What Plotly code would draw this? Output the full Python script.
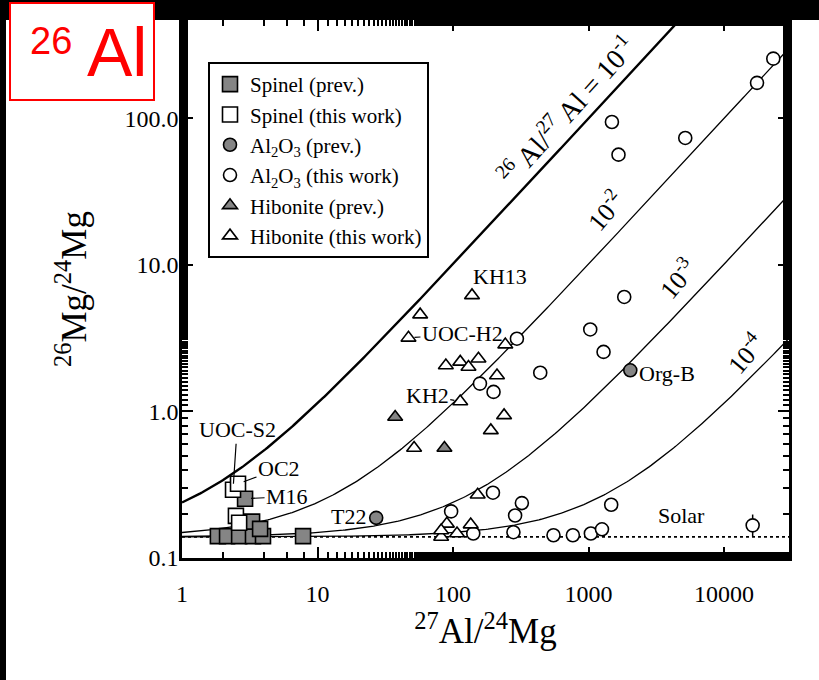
import numpy as np
import plotly.graph_objects as go

# ---------------- data ----------------
spinel_prev_x = [1.84, 2.15, 2.64, 3.34, 3.96, 7.82, 2.92, 3.29, 3.77]
spinel_prev_y = [0.141, 0.141, 0.141, 0.141, 0.141, 0.141, 0.254, 0.177, 0.158]

spinel_new_x = [2.38, 2.59, 2.50, 2.64]
spinel_new_y = [0.292, 0.321, 0.194, 0.174]

al_prev_x = [27.1, 2032]
al_prev_y = [0.188, 1.91]

al_new_x = [23070, 17500, 1487, 1663, 5170, 1833, 1029, 1290, 296, 440, 158, 199,
            96.8, 197, 322, 287, 279, 141, 551, 766, 1040, 1256, 1469, 16250]
al_new_y = [256, 175, 94.6, 56.6, 73.6, 6.05, 3.63, 2.55, 3.14, 1.84, 1.55, 1.36,
            0.208, 0.279, 0.237, 0.195, 0.150, 0.147, 0.143, 0.143, 0.147, 0.157, 0.231, 0.167]
al_new_err_plus = [0] * 23 + [0.031]
al_new_err_minus = [0] * 23 + [0.027]

hib_prev_x = [37.4, 86.4]
hib_prev_y = [0.917, 0.563]

hib_new_x = [138, 57.2, 46.9, 88.5, 113, 130, 154, 243, 211, 113, 238, 190, 51.6,
             152, 90, 81.7, 107, 135, 81.7]
hib_new_y = [6.2, 4.58, 3.18, 2.06, 2.18, 2.01, 2.29, 2.86, 1.76, 1.17, 0.94, 0.743, 0.563,
             0.270, 0.171, 0.139, 0.147, 0.169, 0.154]

solar_ratio = 0.1393
isochron_ratios = [1e-1, 1e-2, 1e-3, 1e-4]
isochron_labels = ["<sup>26</sup> Al/<sup>27</sup> Al = 10<sup>-1</sup>",
                   "10<sup>-2</sup>", "10<sup>-3</sup>", "10<sup>-4</sup>"]
isochron_label_pos = [(690, 113), (1327, 23.5), (4510, 8.06), (14350, 2.48)]

x_ticks = [1, 10, 100, 1000, 10000]
x_ticktext = ["1", "10", "100", "1000", "10000"]
y_ticks = [0.1, 1, 10, 100]
y_ticktext = ["0.1", "1.0", "10.0", "100.0"]

# grain labels with leader lines: (text, x, y, ax, ay)
grain_labels = [
    ("UOC-S2", 2.38, 0.292, 4, -60),
    ("OC2", 2.59, 0.321, 41, -15),
    ("M16", 2.92, 0.254, 42, -2),
    ("KH2", 113, 1.17, -33, -6),
    ("UOC-H2", 46.9, 3.18, 54, -4),
]
# grain labels without leader: (text, x, y, xanchor, xshift, yshift)
plain_labels = [
    ("T22", 27.1, 0.188, "right", -8, 1),
    ("KH13", 138, 6.2, "center", 28, 19),
    ("Org-B", 2032, 1.91, "left", 7, -3),
]

# ---------------- layout geometry ----------------
W, H = 819, 680
ML, MR, MT, MB = 182, 30, 20, 122
PW, PH = W - ML - MR, H - MT - MB


def pxx(x):
    return (x - ML) / PW


def pxy(y):
    return 1 - (y - MT) / PH


SERIF = "Liberation Serif, Times New Roman, serif"
SANS = "Liberation Sans, Arial, sans-serif"
GREY = "#858585"

fig = go.Figure()

# isochrons and solar reference
xs = np.logspace(0, 4.5, 300)
for i, r in enumerate(isochron_ratios):
    fig.add_trace(go.Scatter(x=xs, y=solar_ratio + r * xs, mode="lines",
                             line=dict(color="black", width=2.4 if i == 0 else 1.3),
                             showlegend=False, hoverinfo="skip"))
fig.add_trace(go.Scatter(x=[1, 10 ** 4.5], y=[solar_ratio, solar_ratio], mode="lines",
                         line=dict(color="black", width=1.6, dash="dot"),
                         showlegend=False, hoverinfo="skip"))

mk_line = dict(color="black", width=1.6)
fig.add_trace(go.Scatter(x=spinel_prev_x, y=spinel_prev_y, mode="markers", name="Spinel (prev.)",
                         marker=dict(symbol="square", size=15, color=GREY, line=mk_line)))
fig.add_trace(go.Scatter(x=spinel_new_x, y=spinel_new_y, mode="markers", name="Spinel (this work)",
                         marker=dict(symbol="square", size=15, color="white", line=mk_line)))
fig.add_trace(go.Scatter(x=al_prev_x, y=al_prev_y, mode="markers",
                         name="Al<sub>2</sub>O<sub>3</sub> (prev.)",
                         marker=dict(symbol="circle", size=13, color=GREY, line=mk_line)))
fig.add_trace(go.Scatter(x=al_new_x, y=al_new_y, mode="markers",
                         name="Al<sub>2</sub>O<sub>3</sub> (this work)",
                         error_y=dict(type="data", array=al_new_err_plus, arrayminus=al_new_err_minus,
                                      color="black", thickness=1.5, width=0),
                         marker=dict(symbol="circle", size=13, color="white", line=mk_line)))
fig.add_trace(go.Scatter(x=hib_prev_x, y=hib_prev_y, mode="markers", name="Hibonite (prev.)",
                         marker=dict(symbol="triangle-up", size=13, color=GREY, line=mk_line)))
fig.add_trace(go.Scatter(x=hib_new_x, y=hib_new_y, mode="markers", name="Hibonite (this work)",
                         marker=dict(symbol="triangle-up", size=13, color="white", line=mk_line)))

annotations = []
for i, (txt, (lx, ly)) in enumerate(zip(isochron_labels, isochron_label_pos)):
    annotations.append(dict(x=np.log10(lx), y=np.log10(ly), xref="x", yref="y", text=txt,
                            showarrow=False, textangle=-48 if i == 0 else -50,
                            xanchor="center", yanchor="middle",
                            font=dict(family=SERIF, size=28 if i == 0 else 26, color="black")))
annotations.append(dict(x=np.log10(4850), y=np.log10(0.194), xref="x", yref="y", text="Solar",
                        showarrow=False, font=dict(family=SERIF, size=22, color="black")))
for txt, gx, gy, ax, ay in grain_labels:
    annotations.append(dict(x=np.log10(gx), y=np.log10(gy), xref="x", yref="y", text=txt,
                            showarrow=True, arrowhead=0, arrowwidth=1.2, arrowcolor="black",
                            ax=ax, ay=ay, standoff=6,
                            font=dict(family=SERIF, size=22, color="black")))
for txt, gx, gy, anc, xs_, ys_ in plain_labels:
    annotations.append(dict(x=np.log10(gx), y=np.log10(gy), xref="x", yref="y", text=txt,
                            showarrow=False, xanchor=anc, yanchor="middle", xshift=xs_, yshift=ys_,
                            font=dict(family=SERIF, size=22, color="black")))

# red "26Al" badge
annotations.append(dict(x=pxx(51), y=pxy(41), xref="paper", yref="paper", text="26",
                        xanchor="center", yanchor="middle", showarrow=False,
                        font=dict(family=SANS, size=38, color="red")))
annotations.append(dict(x=pxx(117), y=pxy(52), xref="paper", yref="paper", text="Al",
                        xanchor="center", yanchor="middle", showarrow=False,
                        font=dict(family=SANS, size=68, color="red")))

shapes = [
    dict(type="rect", xref="paper", yref="paper", x0=pxx(0), x1=pxx(W), y0=pxy(0), y1=pxy(20),
         fillcolor="black", line=dict(width=0), layer="above"),
    dict(type="rect", xref="paper", yref="paper", x0=pxx(0), x1=pxx(6), y0=pxy(0), y1=pxy(H),
         fillcolor="black", line=dict(width=0), layer="above"),
    dict(type="rect", xref="paper", yref="paper", x0=pxx(10), x1=pxx(154), y0=pxy(3), y1=pxy(100),
         fillcolor="white", line=dict(color="red", width=2), layer="above"),
]

axis_common = dict(type="log", showgrid=False, zeroline=False, showline=True, linecolor="black",
                   linewidth=2.5, mirror="allticks", ticks="inside", ticklen=11, tickwidth=2,
                   tickcolor="black", tickfont=dict(family=SERIF, size=24, color="black"),
                   minor=dict(ticks="inside", ticklen=6, tickwidth=1.5, tickcolor="black", showgrid=False))

fig.update_layout(
    width=W, height=H, margin=dict(l=ML, r=MR, t=MT, b=MB),
    paper_bgcolor="white", plot_bgcolor="white",
    xaxis=dict(axis_common, range=[0, 4.479], tickvals=x_ticks, ticktext=x_ticktext,
               ticklabelstandoff=12,
               title=dict(text="<sup>27</sup>Al/<sup>24</sup>Mg", standoff=8,
                          font=dict(family=SERIF, size=35, color="black"))),
    yaxis=dict(axis_common, range=[-1.0, 2.672], tickvals=y_ticks, ticktext=y_ticktext,
               ticklabelstandoff=-4,
               title=dict(text="<sup>26</sup>Mg/<sup>24</sup>Mg", standoff=28,
                          font=dict(family=SERIF, size=35, color="black"))),
    legend=dict(x=pxx(208), y=pxy(62), xanchor="left", yanchor="top", bgcolor="white",
                bordercolor="black", borderwidth=2,
                font=dict(family=SERIF, size=21, color="black")),
    annotations=annotations,
    shapes=shapes,
    showlegend=True,
)

fig.write_html("out.html", config={"displayModeBar": False},
               post_script="document.documentElement.style.overflow='hidden';"
                           "document.body.style.margin='0';document.body.style.overflow='hidden';")
